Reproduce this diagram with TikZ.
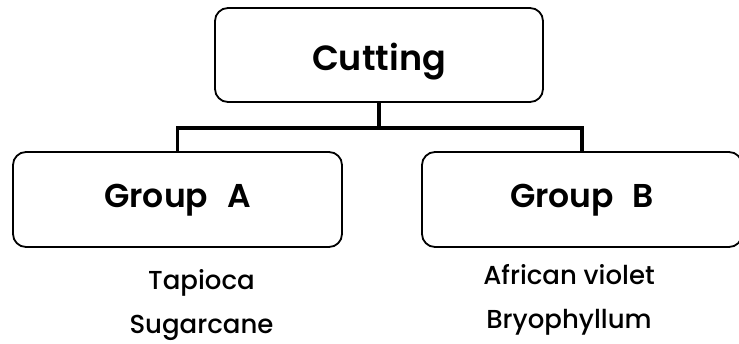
\documentclass[tikz,border=0pt]{standalone}
\usepackage{fontspec}
\setmainfont{Poppins}
\newfontfamily\headfont{Poppins}[UprightFont=* SemiBold]
\newfontfamily\listfont{Poppins}[UprightFont=* Medium]
\usepackage{tikz}
\usetikzlibrary{positioning}
\definecolor{ink}{HTML}{000000}
\tikzset{
  box/.style={draw=ink, line width=1.8pt, rounded corners=13pt, inner sep=0pt, text depth=0pt,
    font=\headfont\fontsize{33}{38}\selectfont},
  link/.style={draw=ink, line width=3.2pt},
  item/.style={text=ink, font=\listfont\fontsize{26}{30}\selectfont, inner sep=0pt, text height=20pt, text depth=0pt},
}

\begin{document}
\begin{tikzpicture}[x=1pt, y=-1pt]
\useasboundingbox (0,0) rectangle (739,343);
\node[box, minimum width=328pt, minimum height=94pt, text height=30pt, font=\headfont\fontsize{35}{40}\selectfont] (cut) at (379,55) {Cutting};
\node[box, minimum width=329pt, minimum height=95pt, text height=15pt] (ga) at (177.5,199.5) {Group\,\, A};
\node[box, minimum width=320pt, minimum height=95pt, text height=15pt] (gb) at (582,199.5) {Group\,\, B};
\draw[link] (cut.south) -- ++(0,25) coordinate (fork);
\draw[link] (fork) -| (ga.north);
\draw[link] (fork) -| (gb.north);
\node[item, below=21pt of ga, xshift=24pt] (tap) {Tapioca};
\node[item, below=24pt of tap] (sug) {Sugarcane};
\node[item, below=16pt of gb, xshift=-13pt] (afv) {African violet};
\node[item, below=24pt of afv] (bry) {Bryophyllum};
\end{tikzpicture}
\end{document}
